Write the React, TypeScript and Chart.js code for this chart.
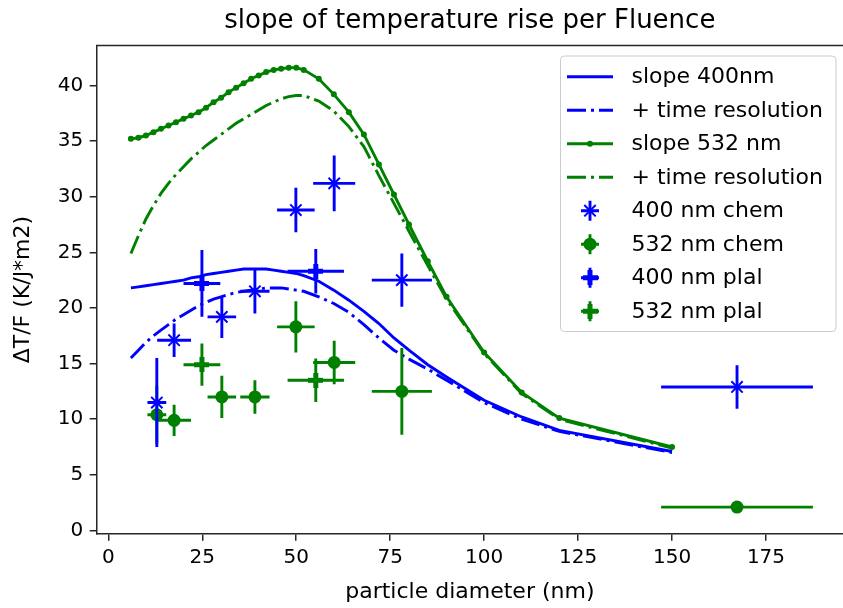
import React, { useEffect, useRef } from "react";
import { Chart, registerables } from "chart.js";

Chart.register(...registerables);

const BLUE = "#0000ff";
const GREEN = "#008000";
const AXIS = "#262626";

// ---- data ----
const lineX = [6, 8, 10, 12, 14, 16, 18, 20, 22, 24, 26, 28, 30, 32, 34, 36, 38, 40, 42, 44, 46, 48, 50, 52, 56, 60, 64, 68, 72, 76, 80, 85, 90, 100, 110, 120, 150];
const slope400 = [21.8, 21.9, 22.0, 22.1, 22.2, 22.3, 22.4, 22.5, 22.7, 22.8, 23.0, 23.1, 23.2, 23.3, 23.4, 23.5, 23.5, 23.5, 23.5, 23.4, 23.3, 23.2, 23.1, 22.9, 22.4, 21.6, 20.7, 19.7, 18.6, 17.3, 16.2, 14.9, 13.8, 11.7, 10.2, 9.0, 7.1];
const slope400Time = [15.5, 16.2, 16.9, 17.5, 18.0, 18.5, 19.0, 19.4, 19.8, 20.2, 20.5, 20.8, 21.0, 21.2, 21.4, 21.5, 21.6, 21.7, 21.8, 21.8, 21.8, 21.7, 21.6, 21.5, 21.0, 20.4, 19.6, 18.5, 17.3, 16.2, 15.4, 14.5, 13.5, 11.5, 10.0, 8.9, 7.0];
const slope532 = [35.2, 35.3, 35.5, 35.8, 36.1, 36.4, 36.7, 37.0, 37.3, 37.6, 38.0, 38.5, 38.9, 39.4, 39.8, 40.2, 40.6, 40.9, 41.2, 41.4, 41.5, 41.6, 41.6, 41.4, 40.6, 39.2, 37.6, 35.6, 32.9, 30.2, 27.5, 24.2, 21.0, 16.0, 12.4, 10.1, 7.5];
const slope532Time = [24.9, 26.5, 28.0, 29.2, 30.3, 31.2, 32.0, 32.7, 33.4, 34.0, 34.6, 35.1, 35.6, 36.1, 36.6, 37.0, 37.4, 37.8, 38.2, 38.5, 38.8, 39.0, 39.1, 39.1, 38.6, 37.7, 36.3, 34.5, 31.9, 29.4, 26.9, 23.8, 20.8, 15.9, 12.3, 10.0, 7.4];

const chemX = [12.9, 17.5, 30.2, 39.0, 49.9, 60.1, 78.1, 167.3];
const chemXErr = [2.5, 4.5, 3.8, 3.9, 5.0, 5.6, 8.0, 20.2];
const chem400Y = [11.5, 17.1, 19.2, 21.5, 28.8, 31.2, 22.5, 12.9];
const chem400YErr = [4.0, 1.5, 1.9, 2.0, 2.0, 2.5, 2.4, 1.95];
const chem532Y = [10.4, 9.9, 12.0, 12.0, 18.3, 15.1, 12.5, 2.1];
const chem532YErr = [2.6, 1.4, 1.9, 1.5, 2.3, 1.95, 3.9, 0];

const plalX = [24.9, 55.2];
const plalXErr = [4.9, 7.5];
const plal400Y = [22.2, 23.3];
const plal400YErr = [3.0, 2.0];
const plal532Y = [14.9, 13.5];
const plal532YErr = [1.9, 1.95];

const xTicks = [0, 25, 50, 75, 100, 125, 150, 175];
const yTicks = [0, 5, 10, 15, 20, 25, 30, 35, 40];

const labels = ["slope 400nm", "+ time resolution", "slope 532 nm", "+ time resolution", "400 nm chem", "532 nm chem", "400 nm plal", "532 nm plal"];

const DASHDOT = [19, 5, 3, 5];
const LW = 2.9;

function pts(xs: number[], ys: number[]) {
  return xs.map((x, i) => ({ x, y: ys[i] }));
}

function plusMarker(color: string, size = 15) {
  const c = document.createElement("canvas");
  c.width = size;
  c.height = size;
  const ctx = c.getContext("2d")!;
  const a = size / 3;
  ctx.fillStyle = color;
  ctx.fillRect(a, 0, a, size);
  ctx.fillRect(0, a, size, a);
  return c;
}

function drawMarker(ctx: CanvasRenderingContext2D, style: any, color: string, x: number, y: number) {
  ctx.save();
  if (style === "crossRot") {
    ctx.strokeStyle = color;
    ctx.lineWidth = 2;
    const r = 5.7;
    ctx.beginPath();
    ctx.moveTo(x - r, y - r); ctx.lineTo(x + r, y + r);
    ctx.moveTo(x - r, y + r); ctx.lineTo(x + r, y - r);
    ctx.stroke();
  } else if (style === "circle") {
    ctx.fillStyle = color;
    ctx.beginPath();
    ctx.arc(x, y, 6.5, 0, Math.PI * 2);
    ctx.fill();
  } else if (style === "dot") {
    ctx.fillStyle = color;
    ctx.beginPath();
    ctx.arc(x, y, 3, 0, Math.PI * 2);
    ctx.fill();
  } else if (style instanceof HTMLCanvasElement) {
    ctx.drawImage(style, x - style.width / 2, y - style.height / 2);
  }
  ctx.restore();
}

const errorBarPlugin = {
  id: "errorBars",
  beforeDatasetDraw(chart: any, args: any) {
    const ds = chart.data.datasets[args.index];
    if (!ds.errX) return;
    const { ctx, chartArea, scales } = chart;
    const xs = scales.x, ys = scales.y;
    ctx.save();
    ctx.beginPath();
    ctx.rect(chartArea.left, chartArea.top, chartArea.right - chartArea.left, chartArea.bottom - chartArea.top);
    ctx.clip();
    ctx.strokeStyle = ds.borderColor;
    ctx.lineWidth = LW;
    ctx.lineCap = "butt";
    ds.data.forEach((p: any, i: number) => {
      const ex = ds.errX[i], ey = ds.errY[i];
      const px = xs.getPixelForValue(p.x), py = ys.getPixelForValue(p.y);
      ctx.beginPath();
      if (ex > 0) {
        ctx.moveTo(xs.getPixelForValue(p.x - ex), py);
        ctx.lineTo(xs.getPixelForValue(p.x + ex), py);
      }
      if (ey > 0) {
        ctx.moveTo(px, ys.getPixelForValue(p.y - ey));
        ctx.lineTo(px, ys.getPixelForValue(p.y + ey));
      }
      ctx.stroke();
    });
    ctx.restore();
  },
};

const framePlugin = {
  id: "frame",
  afterDraw(chart: any) {
    const { ctx, chartArea } = chart;
    ctx.save();
    ctx.strokeStyle = AXIS;
    ctx.lineWidth = 1.5;
    ctx.beginPath();
    ctx.moveTo(chartArea.left - 0.75, chartArea.top);
    ctx.lineTo(chartArea.right, chartArea.top);
    ctx.stroke();
    ctx.restore();
  },
};

const legendPlugin = {
  id: "mplLegend",
  afterDraw(chart: any) {
    const { ctx } = chart;
    const left = 560.5, top = 56, right = 836, bottom = 331.5, r = 4;
    ctx.save();
    ctx.beginPath();
    ctx.moveTo(left + r, top);
    ctx.lineTo(right - r, top);
    ctx.quadraticCurveTo(right, top, right, top + r);
    ctx.lineTo(right, bottom - r);
    ctx.quadraticCurveTo(right, bottom, right - r, bottom);
    ctx.lineTo(left + r, bottom);
    ctx.quadraticCurveTo(left, bottom, left, bottom - r);
    ctx.lineTo(left, top + r);
    ctx.quadraticCurveTo(left, top, left + r, top);
    ctx.closePath();
    ctx.fillStyle = "rgba(255,255,255,0.8)";
    ctx.fill();
    ctx.strokeStyle = "#cccccc";
    ctx.lineWidth = 1;
    ctx.stroke();

    const x0 = 567, x1 = 613, xc = 590;
    const rowY0 = 76.7, step = 33.5;
    chart.data.datasets.forEach((ds: any, i: number) => {
      const y = rowY0 + i * step;
      const color = ds.borderColor;
      if (!ds.errX) {
        ctx.save();
        ctx.strokeStyle = color;
        ctx.lineWidth = LW;
        ctx.setLineDash(ds.borderDash || []);
        ctx.beginPath();
        ctx.moveTo(x0, y);
        ctx.lineTo(x1, y);
        ctx.stroke();
        ctx.restore();
        if (ds.pointRadius > 0) drawMarker(ctx, "dot", color, xc, y);
      } else {
        ctx.save();
        ctx.strokeStyle = color;
        ctx.lineWidth = LW;
        ctx.beginPath();
        ctx.moveTo(xc - 9, y); ctx.lineTo(xc + 9, y);
        ctx.moveTo(xc, y - 10); ctx.lineTo(xc, y + 10);
        ctx.stroke();
        ctx.restore();
        drawMarker(ctx, ds.pointStyle, color, xc, y);
      }
      ctx.save();
      ctx.fillStyle = "#000";
      ctx.font = "22px 'DejaVu Sans'";
      ctx.textBaseline = "middle";
      ctx.textAlign = "left";
      ctx.fillText(ds.label, 631.5, y + 1);
      ctx.restore();
    });
    ctx.restore();
  },
};

export default function App() {
  const canvasRef = useRef<HTMLCanvasElement | null>(null);

  useEffect(() => {
    if (!canvasRef.current) return;
    Chart.defaults.font.family = "'DejaVu Sans', sans-serif";
    Chart.defaults.color = "#000";
    const plusBlue = plusMarker(BLUE);
    const plusGreen = plusMarker(GREEN);

    const lineDs = (label: string, ys: number[], color: string, dash: number[], dots: boolean) => ({
      label,
      data: pts(lineX, ys),
      borderColor: color,
      backgroundColor: color,
      borderWidth: LW,
      borderDash: dash,
      pointRadius: dots ? 3 : 0,
      pointHoverRadius: dots ? 3 : 0,
      pointStyle: "circle",
      pointBorderWidth: 0,
      tension: 0,
      showLine: true,
      order: 2,
    });
    const errDs = (label: string, xs: number[], ys: number[], ex: number[], ey: number[], color: string, style: any, radius: number) => ({
      label,
      data: pts(xs, ys),
      errX: ex,
      errY: ey,
      borderColor: color,
      backgroundColor: color,
      pointStyle: style,
      pointRadius: radius,
      pointHoverRadius: radius,
      pointBorderWidth: style === "crossRot" ? 2 : 0,
      showLine: false,
      order: 1,
    });

    const chart = new Chart(canvasRef.current, {
      type: "line",
      data: {
        datasets: [
          lineDs(labels[0], slope400, BLUE, [], false),
          lineDs(labels[1], slope400Time, BLUE, DASHDOT, false),
          lineDs(labels[2], slope532, GREEN, [], true),
          lineDs(labels[3], slope532Time, GREEN, DASHDOT, false),
          errDs(labels[4], chemX, chem400Y, chemXErr, chem400YErr, BLUE, "crossRot", 8),
          errDs(labels[5], chemX, chem532Y, chemXErr, chem532YErr, GREEN, "circle", 6.5),
          errDs(labels[6], plalX, plal400Y, plalXErr, plal400YErr, BLUE, plusBlue, 8),
          errDs(labels[7], plalX, plal532Y, plalXErr, plal532YErr, GREEN, plusGreen, 8),
        ] as any,
      },
      options: {
        responsive: false,
        animation: false,
        events: [],
        layout: { padding: 0, autoPadding: false },
        plugins: {
          legend: { display: false },
          tooltip: { enabled: false },
          title: {
            display: true,
            text: "slope of temperature rise per Fluence",
            font: { size: 26, weight: "normal" },
            color: "#000",
            padding: { top: 6, bottom: 8.2 },
            fullSize: false,
          },
        },
        scales: {
          x: {
            type: "linear",
            min: -3.1,
            max: 195.5,
            afterBuildTicks: (s: any) => { s.ticks = xTicks.map((v) => ({ value: v })); },
            afterFit: (s: any) => { s.height = 74.2; },
            grid: { drawOnChartArea: false, drawTicks: true, tickLength: 7, color: AXIS, lineWidth: 1.5 },
            border: { display: true, color: AXIS, width: 1.5 },
            ticks: { font: { size: 20 }, color: "#000", padding: 5, maxRotation: 0 },
            title: { display: true, text: "particle diameter (nm)", font: { size: 22 }, color: "#000", padding: { top: 0, bottom: 3 } },
          },
          y: {
            type: "linear",
            min: -0.3,
            max: 43.6,
            afterBuildTicks: (s: any) => { s.ticks = yTicks.map((v) => ({ value: v })); },
            afterFit: (s: any) => { s.width = 96.7; },
            grid: { drawOnChartArea: false, drawTicks: true, tickLength: 7, color: AXIS, lineWidth: 1.5 },
            border: { display: true, color: AXIS, width: 1.5 },
            ticks: { font: { size: 20 }, color: "#000", padding: 6.5 },
            title: { display: true, text: "ΔT/F (K/J*m2)", font: { size: 22 }, color: "#000", padding: { top: 10, bottom: 0 } },
          },
        },
      } as any,
      plugins: [errorBarPlugin, framePlugin, legendPlugin],
    });
    return () => chart.destroy();
  }, []);

  return (
    <div style={{ position: "absolute", left: 0, top: 0, width: 843, height: 608, background: "#fff" }}>
      <canvas ref={canvasRef} width={843} height={608} style={{ display: "block" }} />
    </div>
  );
}
